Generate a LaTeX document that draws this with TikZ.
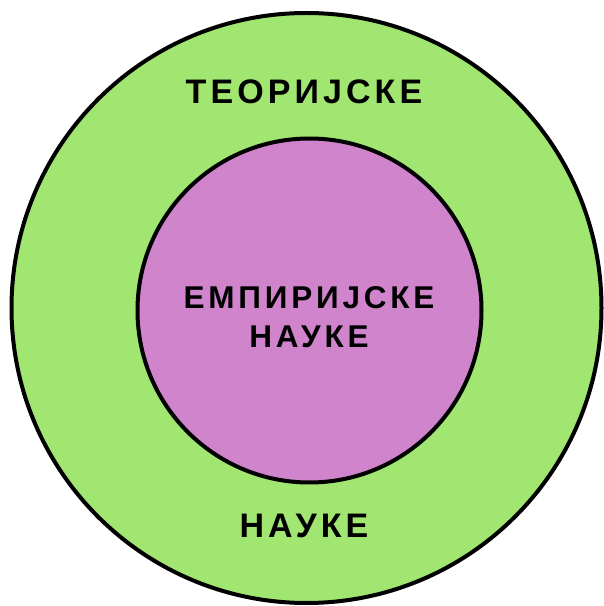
\documentclass[tikz,border=0pt]{standalone}
\usepackage{fontspec}
\newfontfamily\labelfont[LetterSpace=12]{Liberation Sans}
\usepackage{xcolor}
\definecolor{outergreen}{RGB}{162,230,114}
\definecolor{innerpurple}{RGB}{208,132,204}

\begin{document}
\begin{tikzpicture}[
		x=1pt, y=1pt,
		ring/.style={circle, draw=black, line width=4pt, inner sep=0pt},
		bigword/.style={anchor=base, inner sep=0pt, font=\labelfont\bfseries\fontsize{34}{39}\selectfont},
		smallword/.style={align=center, inner sep=0pt, font=\labelfont\bfseries\fontsize{31.5}{39}\selectfont}
		]
		\useasboundingbox (0,0) rectangle (604,606);
		\fill[white] (0,0) rectangle (604,606);
		% circles
		\node[ring, fill=outergreen, minimum size=590pt] (theory) at (306.5,298) {};
		\node[ring, fill=innerpurple, minimum size=344pt] (empiric) at (309.5,295.5) {};
		% labels
		\node[bigword] (top) at (304,502) {ТЕОРИЈСКЕ};
		\node[bigword] (bottom) at (304,68) {НАУКЕ};
		\node[smallword] (middle) at (309,288.5) {ЕМПИРИЈСКЕ\\НАУКЕ};
	\end{tikzpicture}
\end{document}
